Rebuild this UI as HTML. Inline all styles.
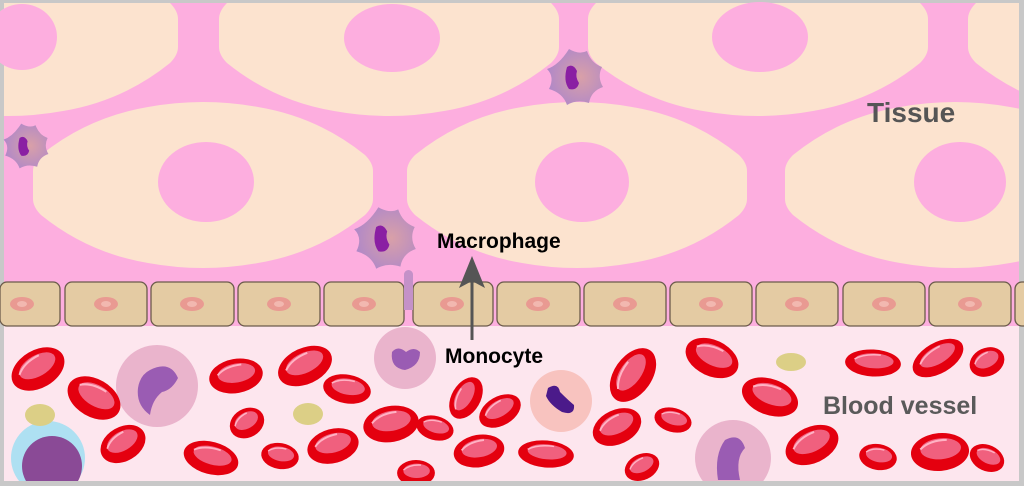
<!DOCTYPE html>
<html><head><meta charset="utf-8"><style>
html,body{margin:0;padding:0;background:#fff}
svg{display:block}
</style></head><body>
<svg width="1024" height="486" viewBox="0 0 1024 486" xmlns="http://www.w3.org/2000/svg">
<defs>
<g id="rbc">
<ellipse cx="0" cy="0" rx="30" ry="18" fill="#e4000f"/>
<ellipse cx="1" cy="-3" rx="21" ry="10" fill="#f0607e"/>
<path d="M-20,-4 Q-10,-12 8,-11" stroke="#ffb3c4" stroke-width="2" fill="none"/>
</g>
<path id="tc" d="M0,-14 Q0,-22 8,-30 Q55,-68 115,-78 Q170,-88 225,-78 Q285,-68 332,-30 Q340,-22 340,-14 L340,14 Q340,22 332,30 Q285,68 225,78 Q170,88 115,78 Q55,68 8,30 Q0,22 0,14 Z" fill="#fce3cf"/>
<radialGradient id="mac" cx="0.6" cy="0.5" r="0.6"><stop offset="0" stop-color="#d9a0a8"/><stop offset="1" stop-color="#b088c8"/></radialGradient>
<g id="macro">
<path d="M-6,-28 Q4,-22 12,-26 Q16,-14 27,-10 Q22,0 28,10 Q16,14 14,26 Q2,22 -8,28 Q-12,16 -26,12 Q-20,0 -28,-8 Q-16,-12 -6,-28Z" fill="url(#mac)"/>
<path d="M-8,-10 Q-2,-14 2,-6 Q0,0 4,6 Q2,14 -6,12 Q-12,4 -8,-10Z" fill="#8a1fa3"/>
</g>
</defs>
<rect width="1024" height="486" fill="#c8c8c8"/>
<rect x="4" y="3" width="1015" height="478" fill="#fdaedf"/>
<svg x="4" y="3" width="1015" height="478" viewBox="4 3 1015 478" overflow="hidden">
<use href="#tc" transform="translate(-162,33)"/>
<use href="#tc" transform="translate(219,33)"/>
<use href="#tc" transform="translate(588,33)"/>
<use href="#tc" transform="translate(968,33)"/>
<use href="#tc" transform="translate(33,185)"/>
<use href="#tc" transform="translate(407,185)"/>
<use href="#tc" transform="translate(785,185)"/>
</svg>
<g fill="#fdaedf">
<ellipse cx="22" cy="37" rx="35" ry="33"/>
<ellipse cx="392" cy="38" rx="48" ry="34"/>
<ellipse cx="760" cy="37" rx="48" ry="35"/>
<ellipse cx="206" cy="182" rx="48" ry="40"/>
<ellipse cx="582" cy="182" rx="47" ry="40"/>
<ellipse cx="960" cy="182" rx="46" ry="40"/>
</g>
<use href="#macro" transform="translate(385,238) scale(1.1)"/>
<use href="#macro" transform="translate(575,77) scale(1)"/>
<use href="#macro" transform="translate(26,146) scale(0.8)"/>
<rect x="404" y="270" width="9" height="34" rx="4.5" fill="#c491c8"/>
<rect x="4" y="326" width="1015" height="155" fill="#fde6ee"/>
<g fill="#e4cba3" stroke="#6b5b4b" stroke-width="1.3">
<rect x="0" y="282" width="60" height="44" rx="7"/>
<rect x="65" y="282" width="82" height="44" rx="7"/>
<rect x="151" y="282" width="83" height="44" rx="7"/>
<rect x="238" y="282" width="82" height="44" rx="7"/>
<rect x="324" y="282" width="80" height="44" rx="7"/>
<rect x="413" y="282" width="80" height="44" rx="7"/>
<rect x="497" y="282" width="83" height="44" rx="7"/>
<rect x="584" y="282" width="82" height="44" rx="7"/>
<rect x="670" y="282" width="82" height="44" rx="7"/>
<rect x="756" y="282" width="82" height="44" rx="7"/>
<rect x="843" y="282" width="82" height="44" rx="7"/>
<rect x="929" y="282" width="82" height="44" rx="7"/>
<rect x="1015" y="282" width="20" height="44" rx="7"/>
</g>
<g fill="#e99a92">
<ellipse cx="22" cy="304" rx="12" ry="7"/><ellipse cx="106" cy="304" rx="12" ry="7"/><ellipse cx="192" cy="304" rx="12" ry="7"/><ellipse cx="279" cy="304" rx="12" ry="7"/><ellipse cx="364" cy="304" rx="12" ry="7"/><ellipse cx="452" cy="304" rx="12" ry="7"/><ellipse cx="538" cy="304" rx="12" ry="7"/><ellipse cx="625" cy="304" rx="12" ry="7"/><ellipse cx="711" cy="304" rx="12" ry="7"/><ellipse cx="797" cy="304" rx="12" ry="7"/><ellipse cx="884" cy="304" rx="12" ry="7"/><ellipse cx="970" cy="304" rx="12" ry="7"/>
</g>
<g fill="#f2b8b0"><ellipse cx="22" cy="304" rx="5" ry="3"/><ellipse cx="106" cy="304" rx="5" ry="3"/><ellipse cx="192" cy="304" rx="5" ry="3"/><ellipse cx="279" cy="304" rx="5" ry="3"/><ellipse cx="364" cy="304" rx="5" ry="3"/><ellipse cx="452" cy="304" rx="5" ry="3"/><ellipse cx="538" cy="304" rx="5" ry="3"/><ellipse cx="625" cy="304" rx="5" ry="3"/><ellipse cx="711" cy="304" rx="5" ry="3"/><ellipse cx="797" cy="304" rx="5" ry="3"/><ellipse cx="884" cy="304" rx="5" ry="3"/><ellipse cx="970" cy="304" rx="5" ry="3"/></g>
<rect x="404" y="280" width="9" height="30" fill="#c491c8"/>
<circle cx="157" cy="386" r="41" fill="#eab4cc"/>
<path d="M150,370 Q170,360 178,378 Q172,390 162,392 Q152,400 150,415 Q136,405 138,388 Q140,375 150,370Z" fill="#9a5cb3"/>
<circle cx="405" cy="358" r="31" fill="#eab4cc"/>
<path d="M392,352 Q398,345 406,352 Q414,346 420,352 Q420,366 405,370 Q390,368 392,352Z" fill="#9a5cb3"/>
<circle cx="561" cy="401" r="31" fill="#f8c3bf"/>
<path d="M548,388 Q558,382 560,392 Q568,400 574,405 Q575,416 562,412 Q550,405 546,396Z" fill="#4b1a8a"/>
<circle cx="733" cy="458" r="38" fill="#eab4cc"/>
<path d="M725,440 Q740,432 745,448 Q735,458 740,480 L718,480 Q714,455 725,440Z" fill="#9a5cb3"/>
<circle cx="48" cy="458" r="37" fill="#aee0f2"/>
<circle cx="52" cy="466" r="30" fill="#8a4a96"/>
<ellipse cx="40" cy="415" rx="15" ry="11" fill="#dccf86"/>
<ellipse cx="308" cy="414" rx="15" ry="11" fill="#dccf86"/>
<ellipse cx="791" cy="362" rx="15" ry="9" fill="#dccf86"/>
<g>
<use href="#rbc" transform="translate(38,369) rotate(-30) scale(0.95,1.05)"/>
<use href="#rbc" transform="translate(94,398) rotate(30) scale(0.95,1.05)"/>
<use href="#rbc" transform="translate(123,444) rotate(-30) scale(0.8,0.95)"/>
<use href="#rbc" transform="translate(236,376) rotate(-10) scale(0.9,0.95)"/>
<use href="#rbc" transform="translate(305,366) rotate(-25) scale(0.95,1)"/>
<use href="#rbc" transform="translate(347,389) rotate(10) scale(0.8,0.8)"/>
<use href="#rbc" transform="translate(247,423) rotate(-30) scale(0.6,0.8)"/>
<use href="#rbc" transform="translate(211,458) rotate(15) scale(0.93,0.9)"/>
<use href="#rbc" transform="translate(280,456) rotate(10) scale(0.63,0.72)"/>
<use href="#rbc" transform="translate(333,446) rotate(-15) scale(0.87,0.95)"/>
<use href="#rbc" transform="translate(391,424) rotate(-10) scale(0.93,1)"/>
<use href="#rbc" transform="translate(435,428) rotate(15) scale(0.63,0.67)"/>
<use href="#rbc" transform="translate(466,398) rotate(-60) scale(0.75,0.8)"/>
<use href="#rbc" transform="translate(500,411) rotate(-30) scale(0.75,0.8)"/>
<use href="#rbc" transform="translate(479,451) rotate(-10) scale(0.85,0.9)"/>
<use href="#rbc" transform="translate(546,454) rotate(5) scale(0.93,0.75)"/>
<use href="#rbc" transform="translate(416,473) rotate(0) scale(0.63,0.72)"/>
<use href="#rbc" transform="translate(633,375) rotate(-55) scale(1,1.05)"/>
<use href="#rbc" transform="translate(712,358) rotate(25) scale(0.93,1)"/>
<use href="#rbc" transform="translate(770,397) rotate(20) scale(0.97,1)"/>
<use href="#rbc" transform="translate(617,427) rotate(-25) scale(0.85,0.95)"/>
<use href="#rbc" transform="translate(673,420) rotate(15) scale(0.63,0.67)"/>
<use href="#rbc" transform="translate(642,467) rotate(-25) scale(0.6,0.72)"/>
<use href="#rbc" transform="translate(812,445) rotate(-25) scale(0.93,1)"/>
<use href="#rbc" transform="translate(873,363) rotate(3) scale(0.93,0.75)"/>
<use href="#rbc" transform="translate(938,358) rotate(-30) scale(0.93,0.85)"/>
<use href="#rbc" transform="translate(987,362) rotate(-25) scale(0.6,0.78)"/>
<use href="#rbc" transform="translate(878,457) rotate(10) scale(0.63,0.72)"/>
<use href="#rbc" transform="translate(940,452) rotate(-5) scale(0.97,1.05)"/>
<use href="#rbc" transform="translate(987,458) rotate(25) scale(0.6,0.72)"/>
</g>
<rect x="0" y="481" width="1024" height="5" fill="#c8c8c8"/>
<line x1="472" y1="340" x2="472" y2="272" stroke="#555" stroke-width="3"/>
<polygon points="472,256 459,288 472,281 485,288" fill="#555"/>
<g font-family="'Liberation Sans',sans-serif" font-weight="bold">
<text x="437" y="248" font-size="21" fill="#000">Macrophage</text>
<text x="445" y="363" font-size="21" fill="#000">Monocyte</text>
<text x="867" y="122" font-size="28" fill="#555">Tissue</text>
<text x="823" y="414" font-size="25" fill="#5a5a5a">Blood vessel</text>
</g>
</svg>
</body></html>
